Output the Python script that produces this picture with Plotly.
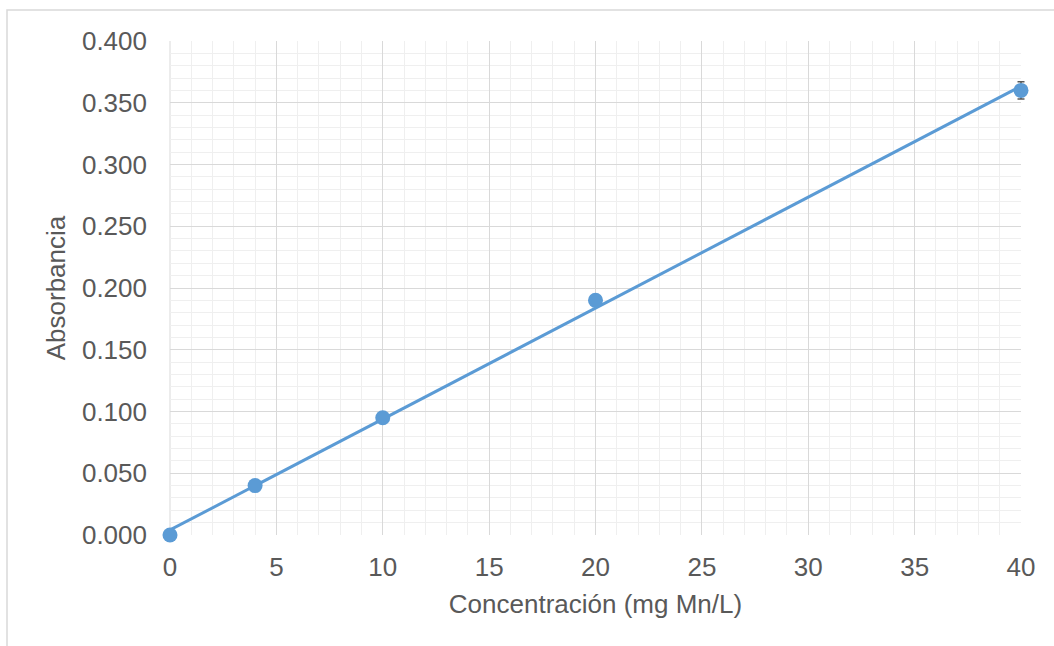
import numpy as np
import plotly.graph_objects as go

# Calibration data: manganese concentration vs absorbance
concentracion = [0, 4, 10, 20, 40]
absorbancia = [0.000, 0.040, 0.095, 0.190, 0.360]
error_abs = [0, 0, 0, 0, 0.007]

x_ticks = [0, 5, 10, 15, 20, 25, 30, 35, 40]
y_ticks = [0.0, 0.05, 0.10, 0.15, 0.20, 0.25, 0.30, 0.35, 0.40]

x_range = [0, 40]
y_range = [0, 0.4]

# Least-squares calibration line
pendiente, intercepto = np.polyfit(concentracion, absorbancia, 1)
x_fit = [min(concentracion), max(concentracion)]
y_fit = [pendiente * x + intercepto for x in x_fit]

blue = "#5b9bd5"
text_grey = "#595959"
font_family = "Liberation Sans, Arial, sans-serif"
font_size = 26

# Pixel geometry of the plotting area
W, H = 1054, 646
left, top, bottom = 170, 41, 111
plot_w = 851           # width of the gridded area
extra = 20             # room on the right so end-point error caps are not clipped
right = W - left - plot_w - extra
dom_frac = plot_w / (plot_w + extra)

fig = go.Figure()

fig.add_trace(go.Scatter(
    x=x_fit, y=y_fit, mode="lines",
    line=dict(color=blue, width=3),
    showlegend=False, hoverinfo="skip",
    xaxis="x", yaxis="y",
))

# Measured points drawn on a wider, invisible overlay subplot
fig.add_trace(go.Scatter(
    x=concentracion, y=absorbancia, mode="markers",
    marker=dict(color=blue, size=15),
    error_y=dict(type="data", array=error_abs, visible=True,
                 color=text_grey, thickness=1.5, width=3.5),
    showlegend=False, cliponaxis=False,
    xaxis="x2", yaxis="y2",
))

axis_common = dict(
    showline=False,
    zeroline=False,
    gridcolor="#d9d9d9",
    gridwidth=1,
    tickfont=dict(family=font_family, size=font_size, color=text_grey),
    ticks="",
)

fig.update_layout(
    xaxis=dict(
        domain=[0, dom_frac],
        range=x_range,
        tickvals=x_ticks,
        ticktext=[str(v) for v in x_ticks],
        minor=dict(dtick=1, gridcolor="#efefef", gridwidth=1, showgrid=True),
        ticklabelstandoff=14,
        title=dict(text="Concentración (mg Mn/L)",
                   font=dict(family=font_family, size=font_size, color=text_grey),
                   standoff=13),
        anchor="y",
        automargin=False,
        **axis_common,
    ),
    yaxis=dict(
        domain=[0, 1],
        range=y_range,
        tickvals=y_ticks,
        ticktext=[f"{v:.3f}" for v in y_ticks],
        minor=dict(dtick=0.01, gridcolor="#efefef", gridwidth=1, showgrid=True),
        ticklabelstandoff=22,
        title=dict(text="Absorbancia",
                   font=dict(family=font_family, size=font_size, color=text_grey),
                   standoff=8),
        anchor="x",
        automargin=False,
        **axis_common,
    ),
    xaxis2=dict(
        domain=[0, 1],
        range=[x_range[0], x_range[1] / dom_frac],
        visible=False, showgrid=False, zeroline=False,
        anchor="y2", automargin=False,
    ),
    yaxis2=dict(
        domain=[0, 1],
        range=y_range,
        visible=False, showgrid=False, zeroline=False,
        anchor="x2", automargin=False,
    ),
)

# Plot area frame on the left, chart outer border
fig.add_shape(type="line", xref="x domain", yref="y domain", x0=0, x1=0, y0=0, y1=1,
              line=dict(color="#d9d9d9", width=1), layer="below")
fig.add_shape(type="rect", xref="paper", yref="paper",
              x0=(7 - left) / (plot_w + extra), x1=1.2,
              y0=-0.5, y1=(H - bottom - 10) / (H - top - bottom),
              line=dict(color="#d9d9d9", width=1.5))

fig.update_layout(
    width=W, height=H,
    margin=dict(l=left, r=right, t=top, b=bottom, autoexpand=False),
    plot_bgcolor="rgba(0,0,0,0)",
    paper_bgcolor="white",
    font=dict(family=font_family, color=text_grey),
)

fig.write_html("out.html")
